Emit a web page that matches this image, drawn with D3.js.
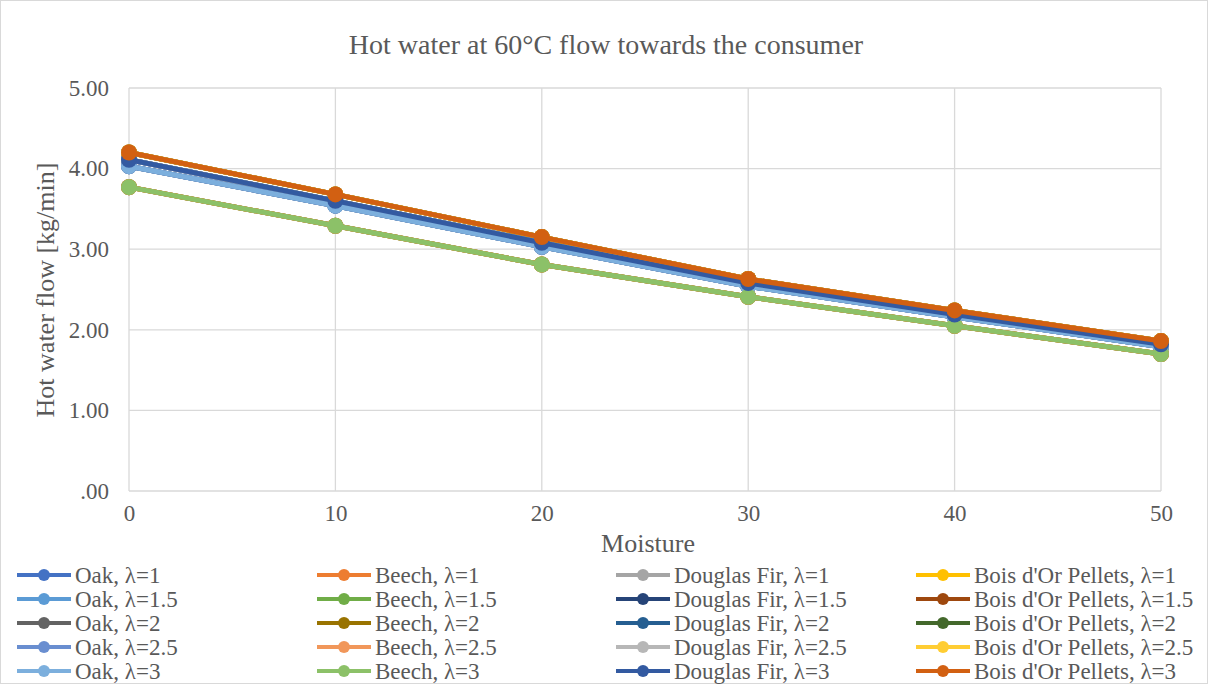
<!DOCTYPE html>
<html>
<head>
<meta charset="utf-8">
<script src="https://cdn.jsdelivr.net/npm/d3@7"></script>
<style>
  body { margin: 0; background: #fff; }
  text { font-family: "Liberation Serif", "Times New Roman", serif; fill: #595959; }
</style>
</head>
<body>
<script>
// moisture values on the x axis
const moisture = [0, 10, 20, 30, 40, 50];
const lambdas = ["1", "1.5", "2", "2.5", "3"];
const fuels = ["Oak", "Beech", "Douglas Fir", "Bois d'Or Pellets"];

// hot water flow [kg/min] per fuel (lambda curves overlap)
const oakFlow = [4.03, 3.54, 3.03, 2.54, 2.16, 1.79];
const beechFlow = [3.77, 3.29, 2.81, 2.41, 2.05, 1.70];
const firFlow = [4.11, 3.60, 3.08, 2.58, 2.19, 1.82];
const boisFlow = [4.20, 3.68, 3.15, 2.63, 2.24, 1.86];

const yTicks = [0, 1, 2, 3, 4, 5];

const colors = ["#4472C4", "#ED7D31", "#A5A5A5", "#FFC000",
  "#5B9BD5", "#70AD47", "#264478", "#9E480E",
  "#636363", "#997300", "#255E91", "#43682B",
  "#698ED0", "#F1975A", "#B7B7B7", "#FFCD33",
  "#7CAFDD", "#8CC168", "#335AA1", "#D26012"];

const flowByFuel = { "Oak": oakFlow, "Beech": beechFlow, "Douglas Fir": firFlow, "Bois d'Or Pellets": boisFlow };

// build series in legend order
let series = [];
lambdas.forEach(function (l) {
  fuels.forEach(function (f) {
    series.push({ name: f + ", \u03bb=" + l, values: flowByFuel[f] });
  });
});
series.forEach(function (s, i) { s.color = colors[i]; });

const W = 1208, H = 684;
let svg = d3.select("body").append("svg")
  .attr("width", W)
  .attr("height", H);

// chart frame
svg.append("rect")
  .attr("x", 0.5).attr("y", 0.5)
  .attr("width", W - 1).attr("height", H - 1)
  .attr("fill", "#fff")
  .attr("stroke", "#D9D9D9");

let x = d3.scaleLinear().domain([0, 50]).range([129, 1161]);
let y = d3.scaleLinear().domain([0, 5]).range([491, 88]);

// grid lines
svg.append("g").selectAll("line.h")
  .data(yTicks)
  .enter().append("line")
  .attr("x1", x(0)).attr("x2", x(50))
  .attr("y1", d => y(d)).attr("y2", d => y(d))
  .attr("stroke", "#D9D9D9").attr("stroke-width", 1.3);

svg.append("g").selectAll("line.v")
  .data(moisture)
  .enter().append("line")
  .attr("x1", d => x(d)).attr("x2", d => x(d))
  .attr("y1", y(0)).attr("y2", y(5))
  .attr("stroke", "#D9D9D9").attr("stroke-width", 1.3);

// axes
let yAxis = d3.axisLeft(y).tickValues(yTicks).tickSize(0).tickPadding(20)
  .tickFormat(d => d === 0 ? ".00" : d3.format(".2f")(d));
let gy = svg.append("g").attr("transform", "translate(" + x(0) + ",0)").call(yAxis);
gy.select(".domain").remove();
gy.selectAll("text").style("font-size", "23px").attr("fill", "#595959")
  .style("font-family", "Liberation Serif");

let xAxis = d3.axisBottom(x).tickValues(moisture).tickSize(0).tickPadding(14);
let gx = svg.append("g").attr("transform", "translate(0," + y(0) + ")").call(xAxis);
gx.select(".domain").remove();
gx.selectAll("text").style("font-size", "23px").attr("fill", "#595959")
  .style("font-family", "Liberation Serif");

// title and axis titles
svg.append("text")
  .attr("x", 606).attr("y", 54)
  .attr("text-anchor", "middle")
  .style("font-size", "28px")
  .text("Hot water at 60\u00b0C flow towards the consumer");

svg.append("text")
  .attr("x", 648).attr("y", 552)
  .attr("text-anchor", "middle")
  .style("font-size", "26px")
  .text("Moisture");

svg.append("text")
  .attr("transform", "translate(54,290) rotate(-90)")
  .attr("text-anchor", "middle")
  .style("font-size", "26px")
  .text("Hot water flow [kg/min]");

// lines and markers
let line = d3.line()
  .x((d, i) => x(moisture[i]))
  .y(d => y(d));

let sg = svg.append("g").selectAll("g")
  .data(series)
  .enter().append("g");

sg.append("path")
  .attr("d", d => line(d.values))
  .attr("fill", "none")
  .attr("stroke", d => d.color)
  .attr("stroke-width", 5)
  .attr("stroke-linejoin", "round");

sg.selectAll("circle")
  .data(d => d.values.map(v => ({ v: v, color: d.color })))
  .enter().append("circle")
  .attr("cx", (d, i) => x(moisture[i]))
  .attr("cy", d => y(d.v))
  .attr("r", 8)
  .attr("fill", d => d.color);

// legend
const colX = [17, 317, 616, 916];
let lg = svg.append("g").selectAll("g")
  .data(series)
  .enter().append("g")
  .attr("transform", (d, i) => "translate(" + colX[i % 4] + "," + (575 + Math.floor(i / 4) * 24) + ")");

lg.append("line")
  .attr("x1", 0).attr("x2", 54)
  .attr("stroke", d => d.color)
  .attr("stroke-width", 4);

lg.append("circle")
  .attr("cx", 27).attr("r", 6)
  .attr("fill", d => d.color);

lg.append("text")
  .attr("x", 58).attr("y", 8)
  .style("font-size", "23px")
  .text(d => d.name);
</script>
</body>
</html>
